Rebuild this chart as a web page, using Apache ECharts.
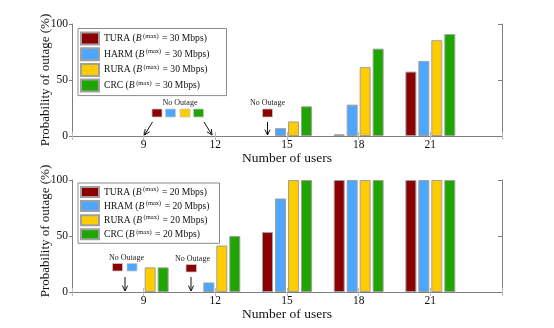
<!DOCTYPE html>
<html lang="en">
<head>
  <meta charset="UTF-8">
  <title>Probability of outage</title>
  <style type="text/css">
    html, body { margin: 0; padding: 0; background: #fff; }
    #main { width: 554px; height: 328px; }
  </style>
</head>
<body>
  <div id="main"></div>
  <script type="text/javascript" src="https://cdn.jsdelivr.net/npm/echarts@6/dist/echarts.min.js"></script>
  <script type="text/javascript">
    // number of users (6 and 24 only pad the axis)
    var users = ['6', '9', '12', '15', '18', '21', '24']
    var yTicks = [0, 50, 100]

    // B(max) = 30 Mbps  (null = no outage)
    var tura30 = [null, null, null, null, 1.5, 57.5, null]
    var harm30 = [null, null, null, 7, 28, 67, null]
    var rura30 = [null, null, null, 13, 61.5, 85.5, null]
    var crc30 = [null, null, null, 26.5, 78, 91, null]

    // B(max) = 20 Mbps
    var tura20 = [null, null, null, 53.5, 100, 100, null]
    var hram20 = [null, null, 8.5, 83.5, 100, 100, null]
    var rura20 = [null, 22, 41.5, 100, 100, 100, null]
    var crc20 = [null, 22, 50, 100, 100, 100, null]

    var legendTop = ['TURA (B = 30 Mbps)', 'HARM (B = 30 Mbps)', 'RURA (B = 30 Mbps)', 'CRC (B = 30 Mbps)']
    var legendBottom = ['TURA (B = 20 Mbps)', 'HRAM (B = 20 Mbps)', 'RURA (B = 20 Mbps)', 'CRC (B = 20 Mbps)']

    var colors = ['#8b0000', '#4da6ff', '#ffcc00', '#1fa500']
    var FONT = '"Liberation Serif", "Times New Roman", "DejaVu Serif", serif'
    var AXIS = '#7f7f7f'

    var myChart = echarts.init(document.getElementById('main'))

    function legendText(name) {
      // "TURA (B = 30 Mbps)" -> TURA (B^(max) = 30 Mbps)
      return name.replace('(B =', '({i|B}{s|(max)} =')
    }

    var rich = {
      i: { fontFamily: FONT, fontSize: 9.6, fontStyle: 'italic', color: '#111', lineHeight: 12 },
      s: { fontFamily: FONT, fontSize: 6.5, color: '#111', verticalAlign: 'top', padding: [0, 1, 0, 1.5], lineHeight: 12 }
    }

    function makeLegend(idx, names, top, itemHeight, gap, padRight) {
      return {
        gridIndex: idx,
        data: names,
        orient: 'vertical',
        left: 78,
        top: top,
        itemWidth: 18,
        itemHeight: itemHeight,
        itemGap: gap,
        padding: [3, padRight, 3, 2],
        borderColor: '#8a8a8a',
        borderWidth: 1,
        borderRadius: 0,
        icon: 'rect',
        selectedMode: false,
        formatter: legendText,
        textStyle: { fontFamily: FONT, fontSize: 9.6, color: '#111', lineHeight: 12, rich: rich }
      }
    }

    function makeX(idx) {
      return [{
        type: 'category',
        gridIndex: idx,
        data: users,
        boundaryGap: false,
        axisLine: { lineStyle: { color: AXIS, width: 1 } },
        axisTick: { inside: true, length: 4, interval: 0, lineStyle: { color: '#bbb' } },
        axisLabel: {
          interval: 0, margin: 3, fontFamily: FONT, fontSize: 11.5, color: '#111',
          formatter: function (v) { return (v === '6' || v === '24') ? '' : v }
        },
        name: 'Number of users',
        nameLocation: 'middle',
        nameGap: 11,
        nameTextStyle: { fontFamily: FONT, fontSize: 13.5, color: '#111', verticalAlign: 'top' }
      }, {
        type: 'category',
        gridIndex: idx,
        position: 'top',
        data: users,
        boundaryGap: false,
        axisLine: { lineStyle: { color: AXIS, width: 1 } },
        axisTick: { inside: true, length: 4, interval: 0, lineStyle: { color: '#bbb' } },
        axisLabel: { show: false }
      }]
    }

    function makeY(idx) {
      return [{
        type: 'value',
        gridIndex: idx,
        min: yTicks[0],
        max: yTicks[yTicks.length - 1],
        interval: 50,
        axisLine: { show: true, lineStyle: { color: AXIS, width: 1 } },
        axisTick: { show: true, length: 3, lineStyle: { color: AXIS } },
        axisLabel: { margin: 4, fontFamily: FONT, fontSize: 11.5, color: '#111' },
        splitLine: { show: false }
      }, {
        type: 'value',
        gridIndex: idx,
        position: 'right',
        min: yTicks[0],
        max: yTicks[yTicks.length - 1],
        interval: 50,
        axisLine: { show: true, lineStyle: { color: AXIS, width: 1 } },
        axisTick: { show: true, inside: true, length: 4, lineStyle: { color: AXIS } },
        axisLabel: { show: false },
        splitLine: { show: false }
      }]
    }

    function makeBar(name, data, color, xi, yi) {
      return {
        name: name,
        type: 'bar',
        xAxisIndex: xi,
        yAxisIndex: yi,
        data: data,
        barWidth: 11,
        barGap: '18%',
        itemStyle: { color: color, borderColor: '#a0a0a0', borderWidth: 1 },
        emphasis: { disabled: true },
        animation: false
      }
    }

    // little annotation pieces ("No Outage" marks and arrows)
    function noteText(x, y) {
      return {
        type: 'text', x: x, y: y,
        style: { text: 'No Outage', fontFamily: FONT, fontSize: 8, fill: '#222', align: 'center', verticalAlign: 'middle' }
      }
    }
    function noteBox(x, y, w, h, c) {
      return {
        type: 'rect', shape: { x: x, y: y, width: w, height: h },
        style: { fill: c, stroke: '#c8c8c8', lineWidth: 0.8 }
      }
    }
    function arrow(x1, y1, x2, y2) {
      var a = Math.atan2(y2 - y1, x2 - x1)
      var L = 6, s = 0.45
      var p1 = [x2 - L * Math.cos(a - s), y2 - L * Math.sin(a - s)]
      var p2 = [x2 - L * Math.cos(a + s), y2 - L * Math.sin(a + s)]
      return [{
        type: 'line', shape: { x1: x1, y1: y1, x2: x2, y2: y2 },
        style: { stroke: '#111', lineWidth: 1 }
      }, {
        type: 'polyline', shape: { points: [p1, [x2, y2], p2] },
        style: { stroke: '#111', lineWidth: 1, fill: null }
      }]
    }

    var notes = [
      noteText(180, 103),
      noteBox(152, 109, 10, 8, colors[0]),
      noteBox(165.5, 109, 10, 8, colors[1]),
      noteBox(180, 109, 10, 8, colors[2]),
      noteBox(193.5, 109, 10, 8, colors[3]),
      noteText(267.5, 103),
      noteBox(262.5, 109, 10, 8, colors[0]),
      noteText(126.5, 257.5),
      noteBox(112.5, 263.5, 10, 7.5, colors[0]),
      noteBox(127, 263.5, 10, 7.5, colors[1]),
      noteText(192.5, 258.5),
      noteBox(186, 264.5, 10.5, 7.5, colors[0]),
      {
        type: 'text', x: 46, y: 80, rotation: Math.PI / 2,
        style: { text: 'Probability of outage (%)', fontFamily: FONT, fontSize: 13, fill: '#111', align: 'center', verticalAlign: 'middle' }
      },
      {
        type: 'text', x: 46, y: 231, rotation: Math.PI / 2,
        style: { text: 'Probability of outage (%)', fontFamily: FONT, fontSize: 13, fill: '#111', align: 'center', verticalAlign: 'middle' }
      }
    ]
    notes = notes
      .concat(arrow(152.5, 122, 144.5, 135))
      .concat(arrow(204, 122, 212, 135))
      .concat(arrow(267.5, 122, 267.5, 135))
      .concat(arrow(125, 277, 125, 291))
      .concat(arrow(191, 277, 191, 291))

    var option = {
      animation: false,
      color: colors,
      grid: [
        { left: 72, top: 24, width: 430, height: 112 },
        { left: 72, top: 180, width: 430, height: 112 }
      ],
      legend: [
        makeLegend(0, legendTop, 28.5, 12, 1.7, 17),
        makeLegend(1, legendBottom, 183, 10, 2.1, 10)
      ],
      xAxis: makeX(0).concat(makeX(1)),
      yAxis: makeY(0).concat(makeY(1)),
      series: [
        makeBar(legendTop[0], tura30, colors[0], 0, 0),
        makeBar(legendTop[1], harm30, colors[1], 0, 0),
        makeBar(legendTop[2], rura30, colors[2], 0, 0),
        makeBar(legendTop[3], crc30, colors[3], 0, 0),
        makeBar(legendBottom[0], tura20, colors[0], 2, 2),
        makeBar(legendBottom[1], hram20, colors[1], 2, 2),
        makeBar(legendBottom[2], rura20, colors[2], 2, 2),
        makeBar(legendBottom[3], crc20, colors[3], 2, 2)
      ],
      graphic: notes
    }
    myChart.setOption(option)
  </script>
</body>
</html>
